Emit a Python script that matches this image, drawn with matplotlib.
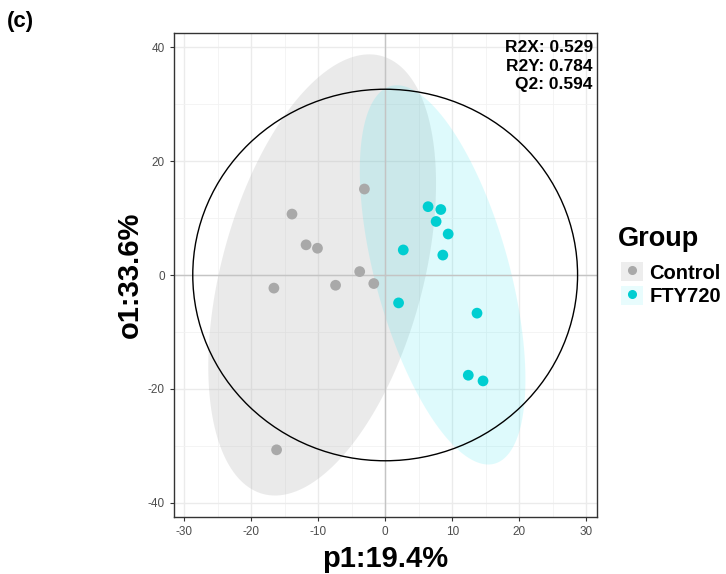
import numpy as np
import matplotlib
matplotlib.use('Agg')
from matplotlib import pyplot as plt
from matplotlib.patches import Patch, Ellipse
from matplotlib.lines import Line2D
from matplotlib.legend_handler import HandlerTuple

plt.rcParams['font.family'] = ['Liberation Sans', 'DejaVu Sans']
plt.rcParams['axes.unicode_minus'] = False

# scores
control_p1 = [-3.1, -13.9, -11.8, -10.1, -3.8, -16.6, -7.4, -1.7, -16.2]
control_o1 = [15.1, 10.7, 5.3, 4.7, 0.6, -2.3, -1.8, -1.5, -30.7]
fty_p1 = [6.4, 8.3, 7.6, 9.4, 2.7, 8.6, 2.0, 13.7, 12.4, 14.6]
fty_o1 = [12.0, 11.5, 9.4, 7.2, 4.4, 3.5, -4.9, -6.7, -17.6, -18.6]

groups = ['Control', 'FTY720']
point_colors = ['#A9A9A9', '#00CED1']
fill_colors = ['#A9A9A9', '#00E0EE']
fill_alpha = [0.24, 0.13]

stats_text = 'R2X: 0.529\nR2Y: 0.784\nQ2: 0.594'
x_label = 'p1:19.4%'
y_label = 'o1:33.6%'


def f_quantile_df2(p, d):
    # F quantile with 2 numerator degrees of freedom (closed form)
    return (d / 2.0) * ((1 - p) ** (-2.0 / d) - 1)


def norm_ellipse(x, y, level=0.95, n_seg=200):
    x = np.asarray(x); y = np.asarray(y)
    n = len(x)
    cov = np.cov(x, y)
    center = np.array([x.mean(), y.mean()])
    radius = np.sqrt(2 * f_quantile_df2(level, n - 1))
    chol = np.linalg.cholesky(cov)
    ang = np.linspace(0, 2 * np.pi, n_seg)
    unit = np.vstack([np.cos(ang), np.sin(ang)])
    pts = center[:, None] + radius * chol @ unit
    return pts[0], pts[1]


fig = plt.figure(figsize=(7.26, 5.74), dpi=100)
ax = fig.add_axes([0.2397, 0.0993, 0.5826, 0.8432])

xs = [control_p1, fty_p1]
ys = [control_o1, fty_o1]

for i in range(2):
    ex, ey = norm_ellipse(xs[i], ys[i])
    ax.fill(ex, ey, color=fill_colors[i], alpha=fill_alpha[i], lw=0, zorder=1)

# Hotelling T2 ellipse
all_x = np.array(control_p1 + fty_p1)
all_y = np.array(control_o1 + fty_o1)
n = len(all_x)
t2 = np.sqrt(2 * (n - 1) / (n - 2) * f_quantile_df2(0.95, n - 2))
ax.add_patch(Ellipse((0, 0), 2 * t2 * all_x.std(ddof=1), 2 * t2 * all_y.std(ddof=1),
                     fill=False, edgecolor='black', lw=1.0, zorder=3))

ax.axhline(0, color='#C4C4C4', lw=1.0, zorder=2)
ax.axvline(0, color='#C4C4C4', lw=1.0, zorder=2)

for i in range(2):
    ax.scatter(xs[i], ys[i], s=60, color=point_colors[i], edgecolors='none', zorder=4)

ax.set_xlim(-31.5, 31.6)
ax.set_ylim(-42.5, 42.5)
ax.set_xticks(np.arange(-30, 31, 10))
ax.set_yticks(np.arange(-40, 41, 20))
ax.set_xticks(np.arange(-25, 30, 10), minor=True)
ax.set_yticks(np.arange(-30, 31, 20), minor=True)
ax.grid(which='major', color='#EBEBEB', lw=1.0, zorder=0)
ax.grid(which='minor', color='#F2F2F2', lw=0.6, zorder=0)
ax.set_axisbelow(True)
ax.tick_params(which='major', length=3, color='#333333', labelsize=8.5, labelcolor='#4D4D4D')
ax.tick_params(which='minor', length=0)
for s in ax.spines.values():
    s.set_color('#333333')
    s.set_linewidth(1.0)

ax.set_xlabel(x_label, fontsize=21, fontweight='bold', labelpad=5)
ax.set_ylabel(y_label, fontsize=21, fontweight='bold', labelpad=3)

ax.text(0.99, 0.985, stats_text, transform=ax.transAxes, ha='right', va='top',
        fontsize=12.5, fontweight='bold', linespacing=1.3)

fig.text(0.01, 1 - 22 / 574, '(c)', fontsize=16, fontweight='bold', ha='left', va='center')

# legend: title as separate text, keys overlay box + dot
fig.text(618 / 726, 1 - 239 / 574, 'Group', fontsize=19.5, fontweight='bold', ha='left', va='center')
handles = []
for i in range(2):
    handles.append((Patch(facecolor=fill_colors[i], alpha=fill_alpha[i] - 0.04, edgecolor='none'),
                    Line2D([], [], marker='o', color=point_colors[i], linestyle='', markersize=5.5)))
leg = fig.legend(handles, groups, handler_map={tuple: HandlerTuple(ndivide=1)},
                 loc='upper left', bbox_to_anchor=(621 / 726, 1 - 262 / 574), frameon=False,
                 prop={'size': 14.5, 'weight': 'bold'}, handlelength=1.1, handleheight=1.1,
                 handletextpad=0.3, labelspacing=0.15, borderpad=0, borderaxespad=0)

fig.savefig('out.png', dpi=100)
